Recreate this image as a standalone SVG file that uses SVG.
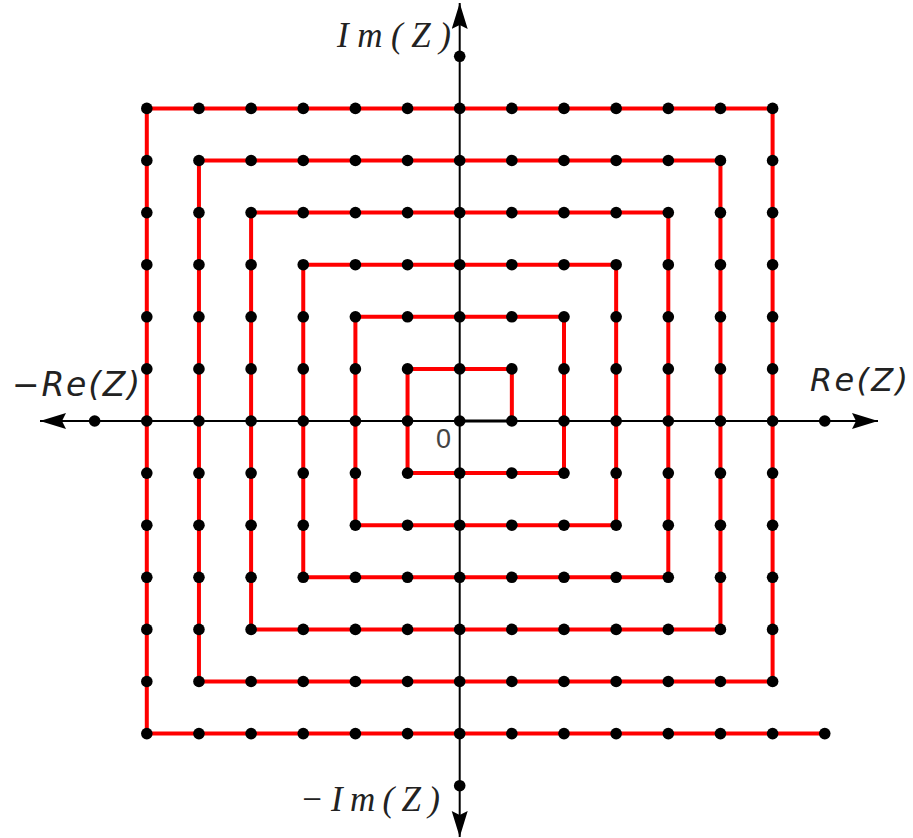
<svg xmlns="http://www.w3.org/2000/svg" xmlns:xlink="http://www.w3.org/1999/xlink" width="913" height="838" viewBox="0 0 913 838">
<style>
.spiral{fill:none;stroke:#ff0000;stroke-width:4;stroke-linejoin:miter}
.axis{fill:none;stroke:#000;stroke-width:2}
.dot{fill:#000}
.im{font-family:"Liberation Serif","DejaVu Serif",serif;font-style:italic;font-size:35px;fill:#222}
.re{font-family:"DejaVu Sans","Liberation Sans",sans-serif;font-style:italic;font-size:32px;fill:#222}
.zero{font-family:"Liberation Sans","DejaVu Sans",sans-serif;font-size:27px;fill:#444}
</style>
<defs>
<marker id="arr" markerUnits="userSpaceOnUse" markerWidth="28" markerHeight="18" refX="26" refY="8" orient="auto-start-reverse">
<path d="M0,0 L26,8 L0,16 L4,8 Z" fill="#000"/>
</marker>
<g id="row">
<circle class="dot" cx="146.8" cy="0" r="5.8"/>
<circle class="dot" cx="198.95" cy="0" r="5.8"/>
<circle class="dot" cx="251.1" cy="0" r="5.8"/>
<circle class="dot" cx="303.25" cy="0" r="5.8"/>
<circle class="dot" cx="355.4" cy="0" r="5.8"/>
<circle class="dot" cx="407.55" cy="0" r="5.8"/>
<circle class="dot" cx="459.7" cy="0" r="5.8"/>
<circle class="dot" cx="511.85" cy="0" r="5.8"/>
<circle class="dot" cx="564" cy="0" r="5.8"/>
<circle class="dot" cx="616.15" cy="0" r="5.8"/>
<circle class="dot" cx="668.3" cy="0" r="5.8"/>
<circle class="dot" cx="720.45" cy="0" r="5.8"/>
<circle class="dot" cx="772.6" cy="0" r="5.8"/>
</g>
</defs>
<g id="connectors">
<path id="spiral" class="spiral" d="M511.85,421 V368.9 H407.55 V473.1 H564 V316.8 H355.4 V525.2 H616.15 V264.7 H303.25 V577.3 H668.3 V212.6 H251.1 V629.4 H720.45 V160.5 H198.95 V681.5 H772.6 V108.4 H146.8 V733.6 H824.75"/>
<line id="x-axis" class="axis" x1="40" y1="421" x2="878" y2="421" marker-start="url(#arr)" marker-end="url(#arr)"/>
<line id="y-axis" class="axis" x1="459.7" y1="3" x2="459.7" y2="837" marker-start="url(#arr)" marker-end="url(#arr)"/>
<line id="first-step" x1="459.7" y1="421" x2="511.85" y2="421" stroke="#000" stroke-width="3"/>
</g>
<g id="dots">
<use xlink:href="#row" href="#row" y="108.4"/>
<use xlink:href="#row" href="#row" y="160.5"/>
<use xlink:href="#row" href="#row" y="212.6"/>
<use xlink:href="#row" href="#row" y="264.7"/>
<use xlink:href="#row" href="#row" y="316.8"/>
<use xlink:href="#row" href="#row" y="368.9"/>
<use xlink:href="#row" href="#row" y="421"/>
<use xlink:href="#row" href="#row" y="473.1"/>
<use xlink:href="#row" href="#row" y="525.2"/>
<use xlink:href="#row" href="#row" y="577.3"/>
<use xlink:href="#row" href="#row" y="629.4"/>
<use xlink:href="#row" href="#row" y="681.5"/>
<use xlink:href="#row" href="#row" y="733.6"/>
<circle class="dot" cx="94.65" cy="421" r="5.8"/>
<circle class="dot" cx="824.75" cy="421" r="5.8"/>
<circle class="dot" cx="459.7" cy="56.3" r="5.8"/>
<circle class="dot" cx="459.7" cy="785.7" r="5.8"/>
<circle class="dot" cx="824.75" cy="733.6" r="5.8"/>
</g>
<g id="labels">
<text id="label-im" class="im" x="337" y="47" textLength="114" lengthAdjust="spacing">Im(Z)</text>
<text id="label-neg-im" class="im" x="300" y="811" textLength="140" lengthAdjust="spacing">−Im(Z)</text>
<text id="label-re" class="re" x="810" y="391" textLength="98" lengthAdjust="spacing">Re(Z)</text>
<text id="label-neg-re" class="re" x="12" y="396" textLength="128" lengthAdjust="spacing" style="font-size:33px">−Re(Z)</text>
<text id="label-zero" class="zero" x="436" y="448">0</text>
</g>
</svg>
